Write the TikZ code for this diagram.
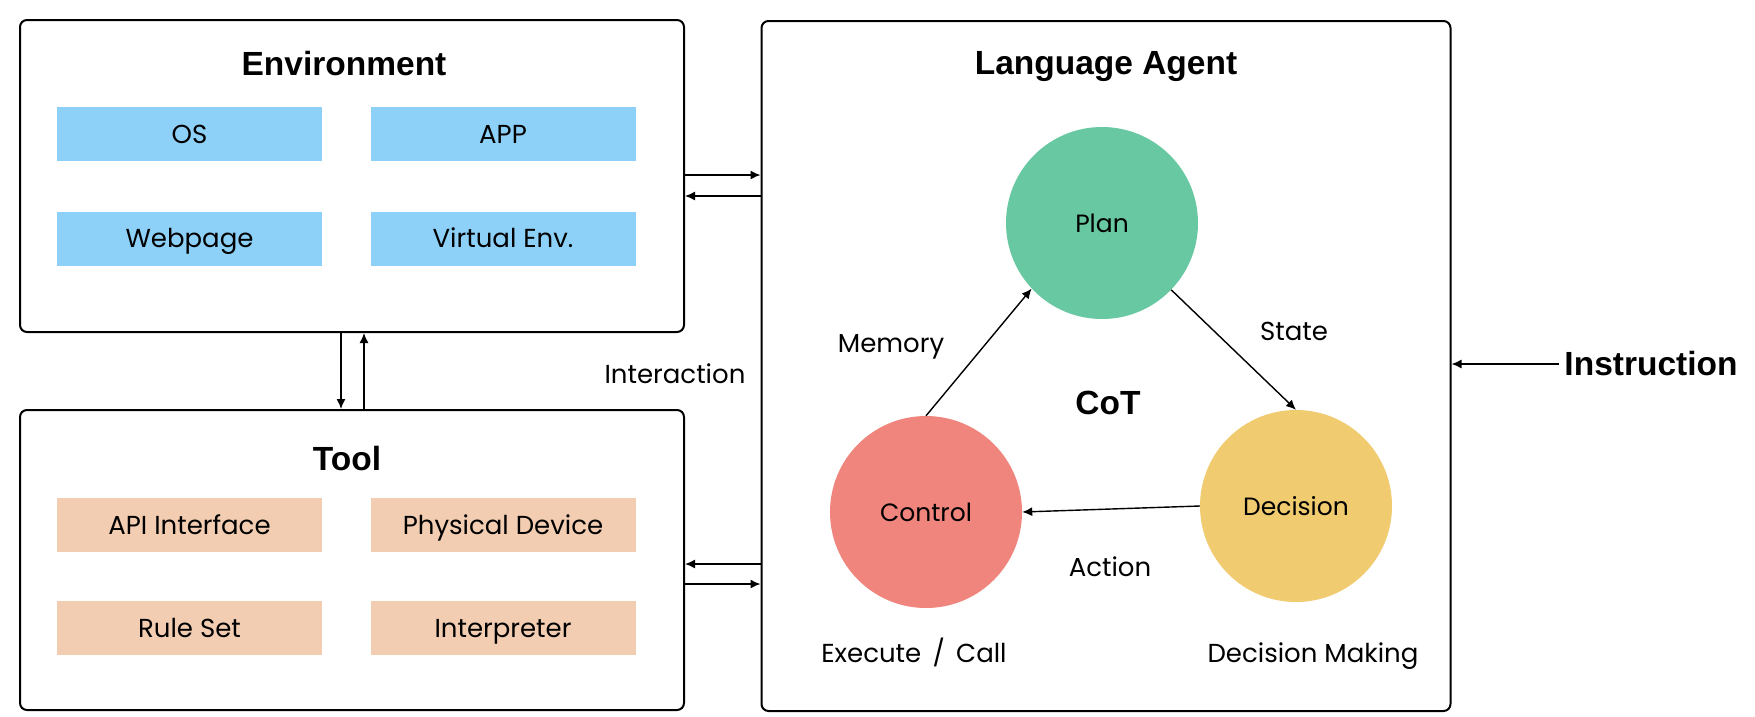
\documentclass[tikz,border=0pt]{standalone}
\usepackage{fontspec}
\setmainfont{Poppins}
\newfontfamily\titlefont{Liberation Sans}
\usetikzlibrary{arrows.meta}

\definecolor{envblue}{HTML}{8DD1F8}
\definecolor{toolpeach}{HTML}{F2CDB1}
\definecolor{plangreen}{HTML}{67C8A2}
\definecolor{controlred}{HTML}{EF857C}
\definecolor{decisionyellow}{HTML}{F0CB6F}

\begin{document}
\begin{tikzpicture}[x=1pt,y=-1pt,
  >={Latex[length=10pt,width=9pt]},
  panel/.style={draw=black, line width=2pt, rounded corners=7pt, inner sep=0pt},
  item/.style={fill=#1, minimum width=265pt, minimum height=54pt, inner sep=0pt,
    text height=19pt, text depth=1pt, font=\fontsize{26}{30}\selectfont},
  stage/.style={circle, fill=#1, minimum size=192pt, inner sep=0pt,
    text height=19pt, text depth=1pt, font=\fontsize{25}{30}\selectfont},
  heading/.style={font=\titlefont\bfseries\fontsize{33.5}{38}\selectfont},
  note/.style={text height=19pt, text depth=1pt, font=\fontsize{26}{30}\selectfont},
  link/.style={->, line width=1.4pt}]
\useasboundingbox (0,0) rectangle (1755,716);

% Panels
\node[panel, minimum width=664pt, minimum height=312pt] (env) at (352,176) {};
\node[panel, minimum width=664pt, minimum height=300pt] (tool) at (352,560) {};
\node[panel, minimum width=689pt, minimum height=690pt] (agent) at (1106,366) {};

% Titles
\node[heading] (envtitle) at (344,64) {Environment};
\node[heading] (tooltitle) at (347,459) {Tool};
\node[heading] (agenttitle) at (1106,67) {Language Agent};
\node[heading] (cot) at (1108,403) {CoT};
\node[heading] (instr) at (1651,364) {Instruction};

% Environment items
\node[item=envblue] (os) at (189.5,134) {OS};
\node[item=envblue] (app) at (503,134) {APP};
\node[item=envblue] (web) at (189.5,238.5) {Webpage};
\node[item=envblue] (venv) at (503,238.5) {Virtual Env.};

% Tool items
\node[item=toolpeach] (api) at (189.5,525) {API Interface};
\node[item=toolpeach] (device) at (503,525) {Physical Device};
\node[item=toolpeach] (rules) at (189.5,628) {Rule Set};
\node[item=toolpeach] (interp) at (503,628) {Interpreter};

% Agent loop
\node[stage=plangreen] (plan) at (1102,223) {Plan};
\node[stage=controlred] (control) at (926,512) {Control};
\node[stage=decisionyellow] (decision) at (1296,506) {Decision};

\draw[link] (control.north) -- (plan.223);
\draw[link] (plan.316) -- (decision.north);
\draw[link] (decision.west) -- (control.east);

% Loop labels
\node[note] (memory) at (891,343) {Memory};
\node[note] (state) at (1294,331) {State};
\node[note] (action) at (1110,567) {Action};
\node[note] (execute) at (914,653) {Execute \,/\, Call};
\node[note] (making) at (1313,653) {Decision Making};
\node[note] (interaction) at (675,374) {Interaction};

% Environment <-> Tool
\coordinate (envdown) at ([xshift=-11pt]env.south);
\coordinate (envup) at ([xshift=12pt]env.south);
\draw[link] (envdown) -- (envdown |- tool.north);
\draw[link] (envup |- tool.north) -- (envup);

% Environment <-> Agent
\coordinate (envout) at ([yshift=1pt]env.east);
\coordinate (envin) at ([yshift=-20pt]env.east);
\draw[link] (envout) -- (envout -| agent.west);
\draw[link] (envin -| agent.west) -- (envin);

% Tool <-> Agent
\coordinate (toolin) at ([yshift=-4pt]tool.east);
\coordinate (toolout) at ([yshift=-24pt]tool.east);
\draw[link] (toolin -| agent.west) -- (toolin);
\draw[link] (toolout) -- (toolout -| agent.west);

% Instruction
\draw[link] ([xshift=-2pt]instr.west) -- (instr.west -| agent.east);

\end{tikzpicture}
\end{document}
